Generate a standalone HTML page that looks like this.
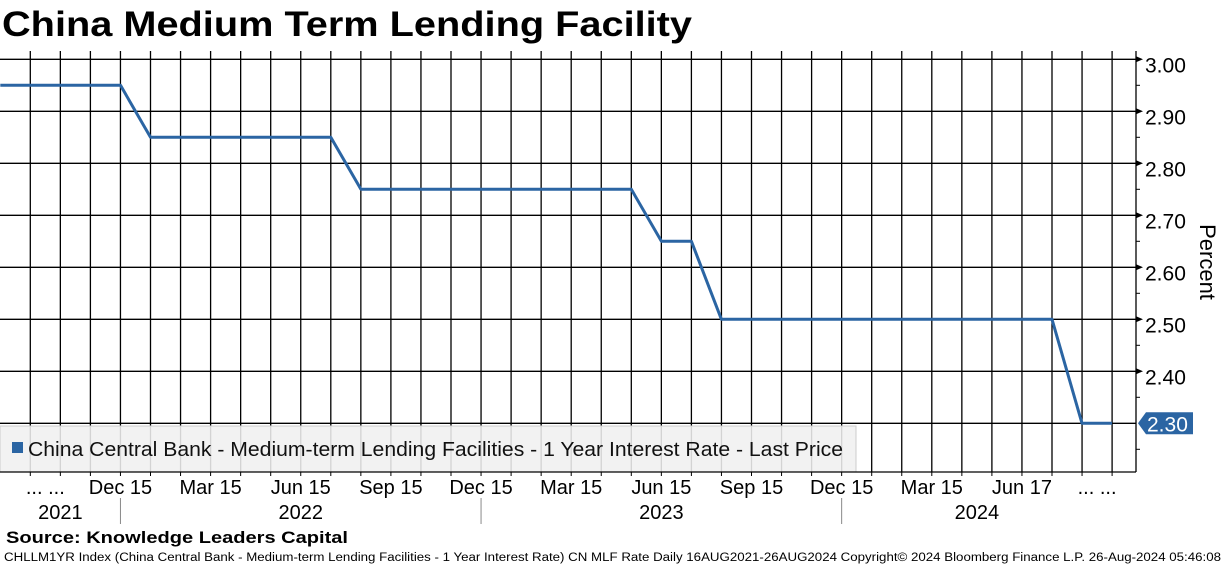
<!DOCTYPE html>
<html><head><meta charset="utf-8"><style>
body{margin:0;background:#fff;width:1224px;height:566px;overflow:hidden}
svg text{font-family:"Liberation Sans",sans-serif}
</style></head><body>
<svg id="c" width="1224" height="566" xmlns="http://www.w3.org/2000/svg">
<text x="2" y="36" font-size="35" font-weight="bold" textLength="690" lengthAdjust="spacingAndGlyphs">China Medium Term Lending Facility</text>
<g id="grid"></g>
<g id="series"></g>
<g id="axes"></g>
<text transform="translate(1200,262) rotate(90)" font-size="22" text-anchor="middle">Percent</text>
<text x="6" y="543" font-size="17" font-weight="bold" textLength="342" lengthAdjust="spacingAndGlyphs">Source: Knowledge Leaders Capital</text>
<text x="4" y="561" font-size="11.5" textLength="1217" lengthAdjust="spacingAndGlyphs">CHLLM1YR Index (China Central Bank - Medium-term Lending Facilities - 1 Year Interest Rate) CN MLF Rate  Daily 16AUG2021-26AUG2024   Copyright© 2024 Bloomberg Finance L.P.   26-Aug-2024 05:46:08</text>
</svg>
<script>
// monthly values, Aug 2021 (index -1) .. Aug 2024 (index 36)
const rates=[2.95,2.95,2.95,2.95,2.95,
 2.85,2.85,2.85,2.85,2.85,2.85,2.85,
 2.75,2.75,2.75,2.75,2.75,2.75,2.75,2.75,2.75,2.75,
 2.65,2.65,
 2.50,2.50,2.50,2.50,2.50,2.50,2.50,2.50,2.50,2.50,2.50,2.50,
 2.30,2.30];
const yTicks=[2.40,2.50,2.60,2.70,2.80,2.90,3.00];
const monthLabels=["... ...","Dec 15","Mar 15","Jun 15","Sep 15","Dec 15","Mar 15","Jun 15","Sep 15","Dec 15","Mar 15","Jun 17","... ..."];
const monthLabelPos=[0.5,3,6,9,12,15,18,21,24,27,30,33,35.5];
const years=["2021","2022","2023","2024"];
const yearPos=[1,9,21,31.5];
const yearSeps=[3,15,27];
const lastValue=2.30;

const NS="http://www.w3.org/2000/svg";
const X=k=>30.3+30.05*k;
const Y=v=>423.3-(v-2.30)*520;
const plotTop=51,plotBot=472,plotRight=1136;
function mk(t,a,p){const e=document.createElementNS(NS,t);for(const k in a)e.setAttribute(k,a[k]);(p||document.getElementById('c')).appendChild(e);return e;}
const grid=document.getElementById('grid'),ax=document.getElementById('axes'),ser=document.getElementById('series');
for(let k=0;k<=36;k++){
 const l=mk('line',{x1:X(k),x2:X(k),y1:plotTop,y2:plotBot,stroke:'#000','stroke-width':1.3},grid);
 
 
 const t=mk('line',{x1:X(k),x2:X(k),y1:plotBot,y2:plotBot+4,stroke:'#000'},ax);
 
 
}
[2.30].concat(yTicks).forEach(v=>{
 const l=mk('line',{x1:0,x2:plotRight,y1:Y(v),y2:Y(v),stroke:'#000','stroke-width':1.3},grid);
 
 
});
// legend
const lg=mk('rect',{x:0,y:426,width:856,height:46,fill:'rgba(240,240,240,0.88)',stroke:'#ccc'},grid);


const lsw=mk('rect',{x:12,y:442,width:11,height:11,fill:'#2b65a3'},grid);


const lt=mk('text',{x:28,y:456,'font-size':20,fill:'#111',textLength:815,lengthAdjust:'spacingAndGlyphs'},grid);
lt.textContent='China Central Bank - Medium-term Lending Facilities - 1 Year Interest Rate - Last Price';


// series
const pts=rates.map((v,i)=>X(i-1).toFixed(1)+','+Y(v).toFixed(1)).join(' ');
const pl=mk('polyline',{points:pts,fill:'none',stroke:'#2b65a3','stroke-width':3,'stroke-linejoin':'round'},ser);


// axes
const ra=mk('line',{x1:plotRight,x2:plotRight,y1:plotTop,y2:plotBot,stroke:'#000','stroke-width':1.3},ax);


const ba=mk('line',{x1:0,x2:plotRight,y1:plotBot,y2:plotBot,stroke:'#000','stroke-width':1.3},ax);


for(let v=2.25;v<3.01;v+=0.1){
 const m=mk('line',{x1:plotRight,x2:plotRight+4,y1:Y(v),y2:Y(v),stroke:'#000'},ax);
 
 
}
yTicks.forEach(v=>{
 const a=mk('path',{d:`M${plotRight} ${Y(v)-3}L${plotRight+7} ${Y(v)}L${plotRight} ${Y(v)+3}Z`,fill:'#000'},ax);
 
 
 const t=mk('text',{x:1145,y:Y(v)+13,'font-size':21},ax);
 t.textContent=v.toFixed(2);
 
 
});
const yl=Y(lastValue);
const tag=mk('path',{d:`M${plotRight+2} ${yl}L${1146} ${yl-11}H1193V${yl+11}H1146Z`,fill:'#2b65a3'},ax);


const tt=mk('text',{x:1147,y:yl+8,'font-size':21,fill:'#fff'},ax);
tt.textContent=lastValue.toFixed(2);


monthLabels.forEach((s,i)=>{
 const t=mk('text',{x:X(monthLabelPos[i]),y:494,'font-size':20,'text-anchor':'middle'},ax);
 t.textContent=s;
 
 
});
years.forEach((s,i)=>{
 const t=mk('text',{x:X(yearPos[i]),y:519,'font-size':20,'text-anchor':'middle'},ax);
 t.textContent=s;
 
 
});
yearSeps.forEach(k=>{
 const l=mk('line',{x1:X(k),x2:X(k),y1:498,y2:524,stroke:'#888'},ax);
 
 
});
</script>
</body></html>
